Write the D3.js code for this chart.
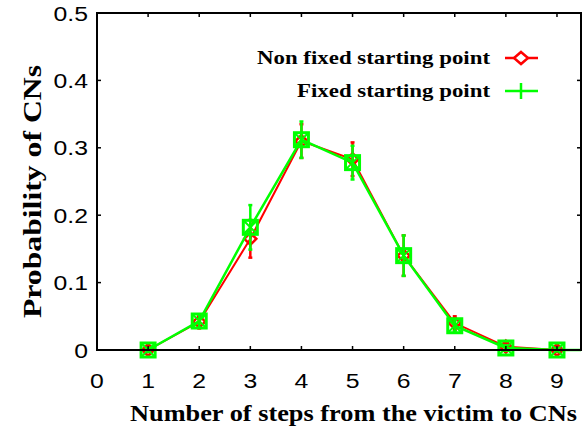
<!DOCTYPE html>
<html>
<head>
<meta charset="utf-8">
<script src="https://cdn.jsdelivr.net/npm/d3@7"></script>
<style>
  html, body { margin: 0; padding: 0; background: #fff; }
  svg { display: block; }
</style>
</head>
<body>
<svg id="chart" width="584" height="428"></svg>
<script>
// Number of steps from the victim to the CNs
const steps = [1, 2, 3, 4, 5, 6, 7, 8, 9, 10];
// Probability of CNs, non fixed starting point (red)
const nonFixed = [0.000, 0.042, 0.165, 0.310, 0.283, 0.140, 0.040, 0.005, 0.000, 0.000];
const nonFixedErr = [0.003, 0.010, 0.028, 0.025, 0.025, 0.030, 0.010, 0.005, 0.003, 0.000];
// Probability of CNs, fixed starting point (green)
const fixed = [0.000, 0.043, 0.182, 0.312, 0.278, 0.140, 0.036, 0.003, 0.000, 0.000];
const fixedErr = [0.003, 0.010, 0.033, 0.027, 0.025, 0.030, 0.008, 0.004, 0.002, 0.000];

const xTicks = [0, 1, 2, 3, 4, 5, 6, 7, 8, 9];
const yTicks = [0, 0.1, 0.2, 0.3, 0.4, 0.5];
const seriesNames = ["Non fixed starting point", "Fixed starting point"];

const svg = d3.select("#chart");
const plotLeft = 97, plotRight = 581, plotTop = 13, plotBottom = 350;

const x = d3.scaleLinear().domain([0, 9.47]).range([plotLeft, plotRight]);
const y = d3.scaleLinear().domain([0, 0.5]).range([plotBottom, plotTop]);

const RED = "#ff0000", GREEN = "#00ff00";

svg.append("defs").append("clipPath").attr("id", "plot-clip")
  .append("rect").attr("x", plotLeft).attr("y", plotTop - 10)
  .attr("width", plotRight - plotLeft).attr("height", plotBottom - plotTop + 20);

const plot = svg.append("g").attr("clip-path", "url(#plot-clip)");

function drawSeries(vals, errs, color, lineW) {
  const pts = steps.map((s, i) => ({ s, v: vals[i], e: errs[i] }));
  plot.append("path")
    .datum(pts)
    .attr("fill", "none")
    .attr("stroke", color)
    .attr("stroke-width", lineW)
    .attr("d", d3.line().x(d => x(d.s)).y(d => y(d.v)));
  const eb = plot.append("g").attr("stroke", color).attr("stroke-width", 2.5);
  pts.filter(d => d.s <= 9).forEach(d => {
    eb.append("line")
      .attr("x1", x(d.s)).attr("x2", x(d.s))
      .attr("y1", y(d.v + d.e)).attr("y2", y(d.v - d.e));
    eb.append("line")
      .attr("x1", x(d.s) - 2).attr("x2", x(d.s) + 2)
      .attr("y1", y(d.v + d.e)).attr("y2", y(d.v + d.e));
    eb.append("line")
      .attr("x1", x(d.s) - 2).attr("x2", x(d.s) + 2)
      .attr("y1", y(d.v - d.e)).attr("y2", y(d.v - d.e));
  });
  return pts.filter(d => d.s <= 9);
}

// Red series with diamond markers
const redPts = drawSeries(nonFixed, nonFixedErr, RED, 2);
plot.append("g").selectAll("path").data(redPts).join("path")
  .attr("transform", d => `translate(${x(d.s)},${y(d.v)})`)
  .attr("d", "M0,-6L6,0L0,6L-6,0Z")
  .attr("fill", "none").attr("stroke", RED).attr("stroke-width", 2.5);

// Green series with square + cross markers
const greenPts = drawSeries(fixed, fixedErr, GREEN, 2.5);
const gm = plot.append("g").selectAll("g").data(greenPts).join("g")
  .attr("transform", d => `translate(${x(d.s)},${y(d.v)})`)
  .attr("fill", "none").attr("stroke", GREEN).attr("stroke-width", 2.5);
gm.append("rect").attr("x", -7).attr("y", -7).attr("width", 14).attr("height", 14).attr("stroke-width", 3);
gm.append("path").attr("d", "M-6,-6L6,6M-6,6L6,-6").attr("stroke-width", 2);

// Frame
svg.append("rect")
  .attr("x", plotLeft).attr("y", plotTop)
  .attr("width", plotRight - plotLeft).attr("height", plotBottom - plotTop)
  .attr("fill", "none").attr("stroke", "#000").attr("stroke-width", 2);

// Inner ticks on all four sides
const tickG = svg.append("g").attr("stroke", "#000").attr("stroke-width", 1.5);
xTicks.forEach(t => {
  tickG.append("line").attr("x1", x(t)).attr("x2", x(t)).attr("y1", plotBottom).attr("y2", plotBottom - 4);
  tickG.append("line").attr("x1", x(t)).attr("x2", x(t)).attr("y1", plotTop).attr("y2", plotTop + 4);
});
yTicks.forEach(t => {
  tickG.append("line").attr("x1", plotLeft).attr("x2", plotLeft + 4).attr("y1", y(t)).attr("y2", y(t));
  tickG.append("line").attr("x1", plotRight).attr("x2", plotRight - 4).attr("y1", y(t)).attr("y2", y(t));
});

// Tick labels (slightly wide lettering)
const tickFont = "'Liberation Sans', Arial, sans-serif";
const SX = 1.18;
svg.append("g").selectAll("text").data(xTicks).join("text")
  .attr("transform", d => `translate(${x(d)},388) scale(${SX},1)`)
  .attr("text-anchor", "middle")
  .attr("font-family", tickFont).attr("font-size", 21)
  .text(d => d);
svg.append("g").selectAll("text").data(yTicks).join("text")
  .attr("transform", d => `translate(88,${y(d) + 7.5}) scale(${SX},1)`)
  .attr("text-anchor", "end")
  .attr("font-family", tickFont).attr("font-size", 21)
  .text(d => d === 0 ? "0" : d.toFixed(1));

// Axis titles
const titleFont = "'Liberation Serif', 'Times New Roman', serif";
svg.append("text")
  .attr("x", 130).attr("y", 421)
  .attr("textLength", 447).attr("lengthAdjust", "spacingAndGlyphs")
  .attr("font-family", titleFont).attr("font-weight", "bold").attr("font-size", 23)
  .text("Number of steps from the victim to CNs");
svg.append("text")
  .attr("transform", "translate(41,318) rotate(-90)")
  .attr("textLength", 253).attr("lengthAdjust", "spacingAndGlyphs")
  .attr("font-family", titleFont).attr("font-weight", "bold").attr("font-size", 26)
  .text("Probability of CNs");

// Legend
const legend = svg.append("g");
[0, 1].forEach(i => {
  const ly = i === 0 ? 58 : 91;
  const w = i === 0 ? 233 : 193;
  legend.append("text")
    .attr("x", 490 - w).attr("y", ly + 6)
    .attr("textLength", w).attr("lengthAdjust", "spacingAndGlyphs")
    .attr("font-family", titleFont).attr("font-weight", "bold").attr("font-size", 19)
    .text(seriesNames[i]);
  const col = i === 0 ? RED : GREEN;
  legend.append("line")
    .attr("x1", 505).attr("x2", 538).attr("y1", ly).attr("y2", ly)
    .attr("stroke", col).attr("stroke-width", 2.5);
  if (i === 0) {
    legend.append("path")
      .attr("transform", `translate(521,${ly})`)
      .attr("d", "M0,-6L7,0L0,6L-7,0Z")
      .attr("fill", "#fff").attr("stroke", col).attr("stroke-width", 2.5);
  } else {
    legend.append("line")
      .attr("x1", 521).attr("x2", 521).attr("y1", ly - 8).attr("y2", ly + 8)
      .attr("stroke", col).attr("stroke-width", 2.5);
  }
});
</script>
</body>
</html>
